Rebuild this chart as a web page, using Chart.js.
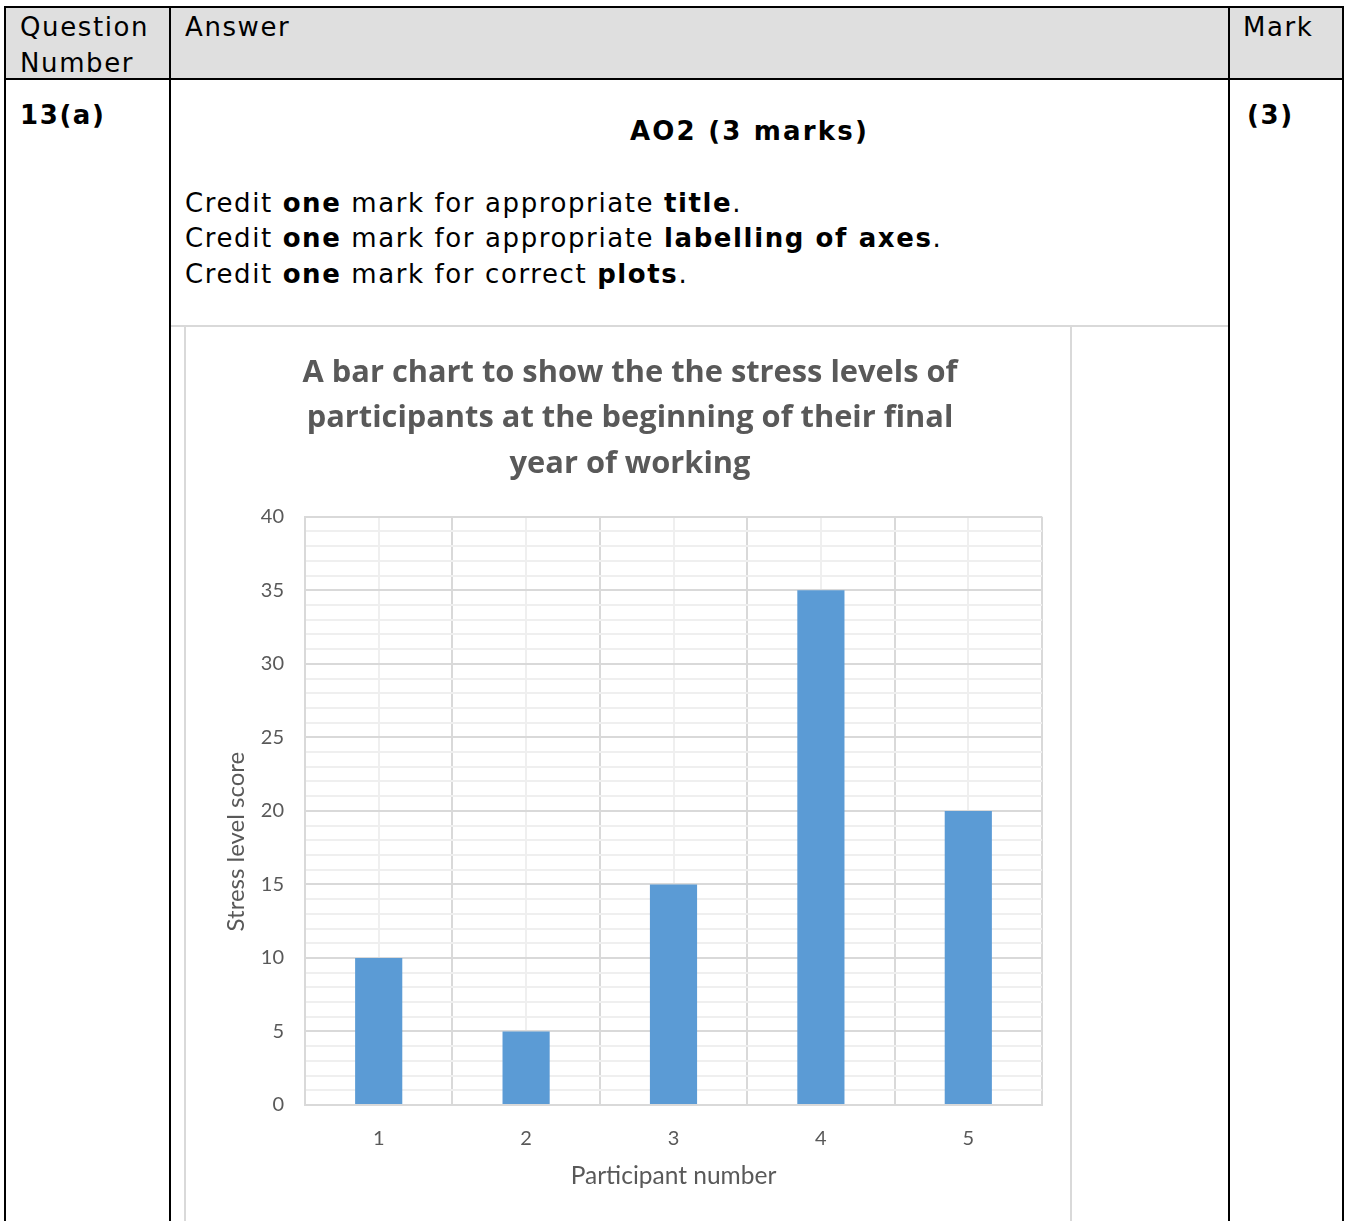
<!DOCTYPE html>
<html><head><meta charset="utf-8">
<script src="https://cdn.jsdelivr.net/npm/chart.js@4"></script>
<style>
body{margin:0;width:1348px;height:1221px;overflow:hidden;background:#fff;position:relative;font-family:"DejaVu Sans",Verdana,sans-serif;color:#000;}
.b{position:absolute;background:#000;}
.g{position:absolute;background:#d9d9d9;}
.t{position:absolute;font-size:26px;line-height:36px;white-space:nowrap;letter-spacing:1.6px;}
.t b{font-weight:bold;}
#wrap{position:absolute;left:186px;top:327px;width:888px;height:894px;}
</style></head><body>
<div style="position:absolute;left:5px;top:7px;width:1338px;height:72px;background:#dfdfdf"></div>
<div class="b" style="left:4px;top:6px;width:1340px;height:2px"></div>
<div class="b" style="left:4px;top:78px;width:1340px;height:2px"></div>
<div class="b" style="left:4px;top:6px;width:2px;height:1215px"></div>
<div class="b" style="left:169px;top:6px;width:2px;height:1215px"></div>
<div class="b" style="left:1228px;top:6px;width:2px;height:1215px"></div>
<div class="b" style="left:1342px;top:6px;width:2px;height:1215px"></div>
<div class="g" style="left:171px;top:325px;width:1057px;height:2px"></div>
<div class="g" style="left:184px;top:327px;width:2px;height:894px"></div>
<div class="g" style="left:1070px;top:327px;width:2px;height:894px"></div>

<div class="t" style="left:20px;top:9px">Question</div>
<div class="t" style="left:20px;top:45px">Number</div>
<div class="t" style="left:185px;top:9px">Answer</div>
<div class="t" style="left:1243px;top:9px">Mark</div>
<div class="t" style="left:20px;top:97px"><b>13(a)</b></div>
<div class="t" style="left:1247px;top:97px"><b>(3)</b></div>
<div class="t" style="left:630px;top:113px;letter-spacing:2.2px"><b>AO2 (3 marks)</b></div>
<div class="t" style="left:185px;top:185px">Credit <b>one</b> mark for appropriate <b>title</b>.</div>
<div class="t" style="left:185px;top:220px">Credit <b>one</b> mark for appropriate <b>labelling of axes</b>.</div>
<div class="t" style="left:185px;top:256px">Credit <b>one</b> mark for correct <b>plots</b>.</div>

<div id="wrap"><canvas id="c" width="888" height="894"></canvas></div>
<script>
const categories = ['1', '2', '3', '4', '5'];
const stressScores = [10, 5, 15, 35, 20];
const titleLines = ['A bar chart to show the the stress levels of', 'participants at the beginning of their final', 'year of working'];
const yAxisTitle = 'Stress level score\u00a0\u00a0\u00a0\u00a0\u00a0\u00a0\u00a0\u00a0\u00a0\u00a0';
const xAxisTitle = 'Participant number';
const yMin = 0, yMax = 40, yMinorStep = 1, yMajorStep = 5;

const grey = '#595959';
new Chart(document.getElementById('c'), {
  type: 'bar',
  data: {
    labels: categories,
    datasets: [{
      data: stressScores,
      backgroundColor: '#5b9bd5',
      borderWidth: 0,
      categoryPercentage: 1,
      barPercentage: 0.32
    }]
  },
  options: {
    responsive: false,
    animation: false,
    events: [],
    layout: { padding: 0 },
    plugins: {
      legend: { display: false },
      tooltip: { enabled: false },
      title: {
        display: true,
        text: titleLines,
        color: grey,
        font: { family: 'Open Sans', weight: 'bold', size: 30.8, lineHeight: 1.48 },
        padding: { top: 23, bottom: 30 }
      }
    },
    scales: {
      x: {
        type: 'category',
        offset: true,
        grid: { offset: true, color: '#d9d9d9', lineWidth: 2, drawTicks: false },
        border: { display: true, color: '#d9d9d9', width: 2 },
        ticks: { color: grey, font: { family: 'Lato', size: 20 }, padding: 22 },
        title: { display: true, text: xAxisTitle, color: grey, font: { family: 'Lato', size: 24.5 }, padding: { top: 10, bottom: 30 } },
        afterFit: (s) => { s.height = 116; }
      },
      x2: {
        type: 'category',
        labels: categories,
        position: 'top',
        offset: true,
        grid: { offset: false, color: '#efefef', lineWidth: 2, drawTicks: false },
        border: { display: false },
        ticks: { display: false }
      },
      y: {
        min: yMin, max: yMax,
        grid: {
          color: (ctx) => (ctx.tick && ctx.tick.value % yMajorStep === 0) ? '#d9d9d9' : '#efefef',
          lineWidth: 2, drawTicks: false
        },
        border: { display: true, color: '#d9d9d9', width: 2 },
        ticks: {
          stepSize: yMinorStep, autoSkip: false, color: grey,
          font: { family: 'Lato', size: 20 }, padding: 21,
          callback: (v) => (v % yMajorStep === 0 ? v : '')
        },
        title: { display: true, text: yAxisTitle, color: grey, font: { family: 'Lato', size: 24 }, padding: { top: 36, bottom: 0 } },
        afterFit: (s) => { s.width = 119; }
      },
      yRight: {
        position: 'right',
        display: true,
        grid: { display: false, drawTicks: false },
        border: { display: false },
        ticks: { display: false },
        afterFit: (s) => { s.width = 32; }
      }
    }
  }
});
</script>
</body></html>
